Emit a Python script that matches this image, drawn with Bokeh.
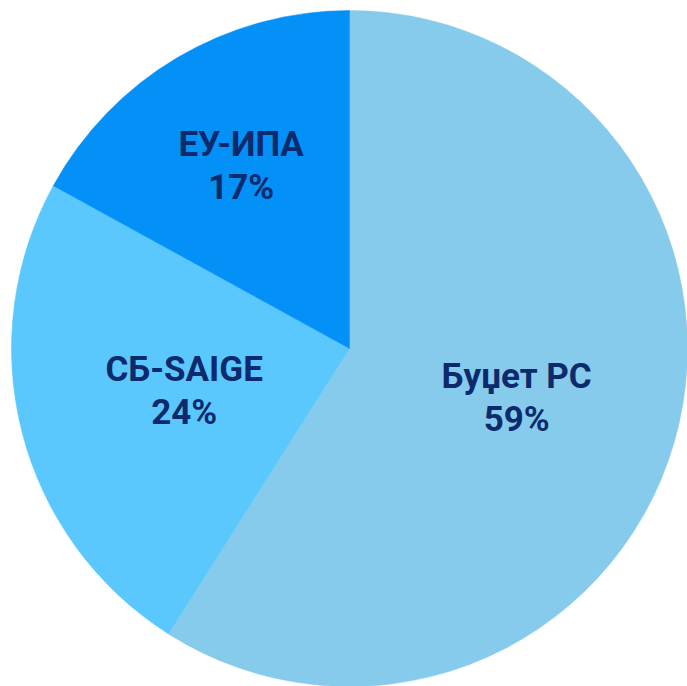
import math
from bokeh.plotting import figure
from bokeh.models import ColumnDataSource
from bokeh.core.properties import value
from bokeh.embed import file_html
from bokeh.resources import INLINE

# Data
categories = ["Буџет РС", "СБ-SAIGE", "ЕУ-ИПА"]
shares = [59, 24, 17]
colors = ["#86cbeb", "#5ac8fd", "#0390f7"]
label_radius = [0.515, 0.505, 0.63]

W, H = 687, 686
cx, cy = 0.0, 0.0
R = 338.0

total = float(sum(shares))
starts, ends, lx, ly, pct = [], [], [], [], []
cum = 0.0
for s, lr in zip(shares, label_radius):
    a_top = math.pi / 2 - 2 * math.pi * cum / total
    cum += s
    a_bot = math.pi / 2 - 2 * math.pi * cum / total
    starts.append(a_bot)
    ends.append(a_top)
    mid = (a_top + a_bot) / 2
    lx.append(cx + lr * R * math.cos(mid))
    ly.append(cy + lr * R * math.sin(mid))
    pct.append(f"{s}%")

src = ColumnDataSource(dict(start=starts, end=ends, color=colors,
                            name=categories, pct=pct,
                            lx=lx, ly_top=[y + 21 for y in ly],
                            ly_bot=[y - 22 for y in ly]))

p = figure(width=W, height=H, output_backend="svg", toolbar_location=None,
           x_range=(-349, 338), y_range=(-338, 348), min_border=0)
p.axis.visible = False
p.grid.visible = False
p.outline_line_color = None
p.background_fill_color = "white"
p.border_fill_color = "white"

p.wedge(x=cx, y=cy, radius=R, start_angle="start", end_angle="end",
        fill_color="color", line_color="color", line_width=0.5, source=src)

common = dict(text_font=value("Roboto"), text_font_style="bold",
              text_font_size="35px", text_color="#0c2a6c",
              text_align="center", text_baseline="middle", source=src)
p.text(x="lx", y="ly_top", text="name", **common)
p.text(x="lx", y="ly_bot", text="pct", **common)

open("out.html", "w").write(file_html(p, INLINE))
